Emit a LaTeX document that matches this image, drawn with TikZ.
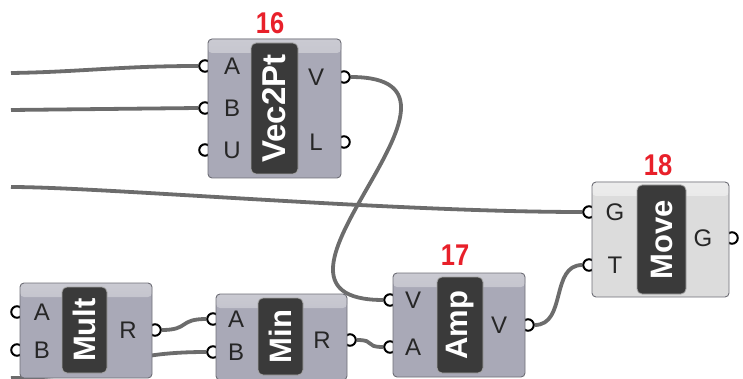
\documentclass[tikz,border=0pt]{standalone}
\usepackage{fontspec}
\setmainfont{Liberation Sans}
\usetikzlibrary{calc}
\pgfdeclarelayer{bg}
\pgfsetlayers{bg,main}
\definecolor{wirec}{HTML}{6C6C6C}
\definecolor{boxbody}{HTML}{A9A9B7}
\definecolor{boxtop}{HTML}{CACAD2}
\definecolor{mvbody}{HTML}{DCDCDC}
\definecolor{mvtop}{HTML}{ECECEC}
\definecolor{boxline}{HTML}{6E6E76}
\definecolor{labfill}{HTML}{3A3A3A}
\definecolor{labtop}{HTML}{666666}
\definecolor{numred}{HTML}{E8202A}
\tikzset{
  wire/.style={draw=wirec, line width=3.8pt},
  port/.style={circle, draw=black, fill=white, line width=2pt, inner sep=0pt, minimum size=11.5pt},
  compbox/.style={draw=boxline, line width=0.9pt, rounded corners=4pt, fill=boxbody, inner sep=0pt,
    path picture={\fill[top color=boxtop, bottom color=boxbody]
      (path picture bounding box.north west) rectangle ([yshift=-14pt]path picture bounding box.north east);}},
  movebox/.style={compbox, fill=mvbody,
    path picture={\fill[top color=mvtop, bottom color=mvbody]
      (path picture bounding box.north west) rectangle ([yshift=-14pt]path picture bounding box.north east);}},
  namelab/.style={draw=gray!70, line width=0.8pt, rounded corners=5pt, fill=labfill, inner sep=0pt, rotate=90,
    text=white, font=\fontsize{31}{31}\selectfont\bfseries,
    path picture={\fill[top color=labtop, bottom color=labfill]
      (path picture bounding box.north west) rectangle ([xshift=14pt]path picture bounding box.south west);}},
  portlab/.style={text=black!85, font=\fontsize{24}{24}\selectfont, inner sep=0pt},
  num/.style={text=numred, font=\fontsize{30}{30}\selectfont\bfseries, inner sep=0pt}
}
\begin{document}
\begin{tikzpicture}[x=1pt,y=-1pt]
\useasboundingbox (0,0) rectangle (743,379);
% free wire ends
\coordinate (w1) at (11,73);
\coordinate (w2) at (11,110);
\coordinate (w3) at (11,187);
\coordinate (w4) at (11,378);

% ports
\node[port] (v2a) at (205,66) {};
\node[port] (v2b) at (205,108) {};
\node[port] (v2u) at (205,150) {};
\node[port] (v2v) at (344,77) {};
\node[port] (v2l) at (344,142) {};
\node[port] (ampv) at (390,300) {};
\node[port] (ampa) at (390,347) {};
\node[port] (ampo) at (528,325) {};
\node[port] (movg) at (589,212) {};
\node[port] (movt) at (589,265) {};
\node[port] (movo) at (732,238) {};
\node[port] (mula) at (17,312) {};
\node[port] (mulb) at (17,350) {};
\node[port] (mulr) at (155,330) {};
\node[port] (mina) at (213,319) {};
\node[port] (minb) at (213,352) {};
\node[port] (minr) at (350,340) {};

% boxes
\node[compbox, minimum width=133pt, minimum height=139pt] (vecbox) at (274.5,108.5) {};
\node[compbox, minimum width=132pt, minimum height=104pt] (ampbox) at (459,325) {};
\node[movebox, minimum width=137pt, minimum height=115pt] (movbox) at (660.5,239.5) {};
\node[compbox, minimum width=132pt, minimum height=95pt] (mulbox) at (86,330.5) {};
\node[compbox, minimum width=131pt, minimum height=86pt] (minbox) at (281.5,337) {};

% name labels
\node[namelab, minimum width=131pt, minimum height=47pt] (veclab) at (274.5,108.5) {\fontsize{33}{33}\selectfont Vec2Pt};
\node[namelab, minimum width=96pt, minimum height=46pt] (amplab) at (460,325) {Amp};
\node[namelab, minimum width=109pt, minimum height=49pt] (movlab) at (661.5,239.5) {Move};
\node[namelab, minimum width=86pt, minimum height=45pt] (mullab) at (84.5,330) {Mult};
\node[namelab, minimum width=77pt, minimum height=45pt] (minlab) at (280.5,336.5) {Min};

% port letters
\node[portlab] (t1) at (232,66) {A};
\node[portlab] (t2) at (232,108) {B};
\node[portlab] (t3) at (232,150) {U};
\node[portlab] (t4) at (316,77) {V};
\node[portlab] (t5) at (316,142) {L};
\node[portlab] (t6) at (413,300) {V};
\node[portlab] (t7) at (413,347) {A};
\node[portlab] (t8) at (499,325) {V};
\node[portlab] (t9) at (615,212) {G};
\node[portlab] (t10) at (615,265) {T};
\node[portlab] (t11) at (703,238) {G};
\node[portlab] (t12) at (42,312) {A};
\node[portlab] (t13) at (42,350) {B};
\node[portlab] (t14) at (128,330) {R};
\node[portlab] (t15) at (236,319) {A};
\node[portlab] (t16) at (236,352) {B};
\node[portlab] (t17) at (322,340) {R};

% numbers
\node[num] (n16) at (270,23) {\scalebox{0.85}[1]{16}};
\node[num] (n17) at (455,255) {\scalebox{0.85}[1]{17}};
\node[num] (n18) at (658,165) {\scalebox{0.85}[1]{18}};

% wires
\begin{pgfonlayer}{bg}
\draw[wire] (w1) .. controls (80,72) and (120,66) .. (v2a.west);
\draw[wire] (w2) -- (v2b.west);
\draw[wire] (w3) .. controls +(90,0) and +(-190,0) .. (movg.west);
\draw[wire] (w4) .. controls +(100,0) and +(-100,0) .. (minb.west);
\draw[wire] (v2v.east) .. controls +(160,0) and +(-160,0) .. (ampv.west);
\draw[wire] (ampo.east) .. controls +(32,0) and +(-32,0) .. (movt.west);
\draw[wire] (mulr.east) .. controls +(28,0) and +(-28,0) .. (mina.west);
\draw[wire] (minr.east) .. controls +(20,0) and +(-20,0) .. (ampa.west);
\end{pgfonlayer}
\end{tikzpicture}
\end{document}
